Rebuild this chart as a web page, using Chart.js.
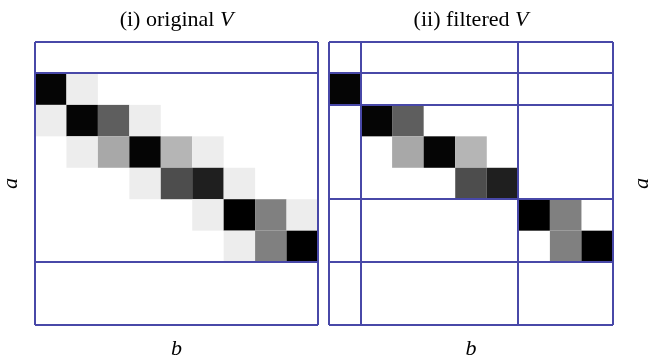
<!DOCTYPE html>
<html>
<head>
<meta charset="utf-8">
<script src="https://cdn.jsdelivr.net/npm/chart.js@4.4.0/dist/chart.umd.min.js"></script>
<style>
  html, body { margin: 0; padding: 0; background: #fff; }
  #wrap { position: relative; width: 657px; height: 360px; overflow: hidden; }
  canvas { position: absolute; top: 0; }
</style>
</head>
<body>
<div id="wrap">
  <canvas id="left-chart" width="328" height="360" style="left:0"></canvas>
  <canvas id="right-chart" width="337" height="360" style="left:320px"></canvas>
</div>
<script>
// grid size (a rows x b columns)
const nRows = 9;
const nCols = 9;

// cell intensity, 1 = black, 0 = white
const originalV = [
  [0, 0, 0, 0, 0, 0, 0, 0, 0],
  [0.98, 0.07, 0, 0, 0, 0, 0, 0, 0],
  [0.07, 0.98, 0.63, 0.07, 0, 0, 0, 0, 0],
  [0, 0.07, 0.34, 0.98, 0.29, 0.07, 0, 0, 0],
  [0, 0, 0, 0.07, 0.70, 0.88, 0.07, 0, 0],
  [0, 0, 0, 0, 0, 0.07, 1.0, 0.5, 0.07],
  [0, 0, 0, 0, 0, 0, 0.07, 0.5, 1.0],
  [0, 0, 0, 0, 0, 0, 0, 0, 0],
  [0, 0, 0, 0, 0, 0, 0, 0, 0]
];

const filteredV = [
  [0, 0, 0, 0, 0, 0, 0, 0, 0],
  [0.98, 0, 0, 0, 0, 0, 0, 0, 0],
  [0, 0.98, 0.63, 0, 0, 0, 0, 0, 0],
  [0, 0, 0.34, 0.98, 0.29, 0, 0, 0, 0],
  [0, 0, 0, 0, 0.70, 0.88, 0, 0, 0],
  [0, 0, 0, 0, 0, 0, 1.0, 0.5, 0],
  [0, 0, 0, 0, 0, 0, 0, 0.5, 1.0],
  [0, 0, 0, 0, 0, 0, 0, 0, 0],
  [0, 0, 0, 0, 0, 0, 0, 0, 0]
];

// block boundaries
const originalRowCuts = [0, 1, 7, 9];
const originalColCuts = [0, 9];
const filteredRowCuts = [0, 1, 2, 5, 7, 9];
const filteredColCuts = [0, 1, 6, 9];

const lineColor = '#4848a8';
const serif = '"Liberation Serif", "Times New Roman", serif';

const heatmapPlugin = {
    id: 'heatmap',
    beforeDatasetsDraw(chart, args, opts) {
        const {ctx, scales: {x, y}} = chart;
        const cells = opts.cells;
        ctx.save();
        cells.forEach((row, r) => {
            row.forEach((v, c) => {
                if (!v) return;
                const g = Math.round(255 * (1 - v));
                const x0 = x.getPixelForValue(c);
                const x1 = x.getPixelForValue(c + 1);
                const y0 = y.getPixelForValue(r);
                const y1 = y.getPixelForValue(r + 1);
                ctx.fillStyle = `rgb(${g},${g},${g})`;
                ctx.fillRect(x0, y0, x1 - x0, y1 - y0);
            });
        });
        ctx.restore();
    }
};

// title with italic V, plus optional rotated side label
const labelPlugin = {
    id: 'labels',
    afterDraw(chart, args, opts) {
        const {ctx, chartArea} = chart;
        ctx.save();
        ctx.fillStyle = '#000';
        const plain = `22px ${serif}`;
        const ital = `italic 22px ${serif}`;
        ctx.font = plain;
        const w1 = ctx.measureText(opts.title).width;
        ctx.font = ital;
        const w2 = ctx.measureText('V').width;
        let tx = (chartArea.left + chartArea.right) / 2 - (w1 + w2) / 2;
        ctx.textBaseline = 'alphabetic';
        ctx.textAlign = 'left';
        ctx.font = plain;
        ctx.fillText(opts.title, tx, 26);
        ctx.font = ital;
        ctx.fillText('V', tx + w1, 26);

        if (opts.sideLabel) {
            const yMid = (chartArea.top + chartArea.bottom) / 2;
            ctx.translate(chart.scales.y.right - 15, yMid);
            ctx.rotate(-Math.PI / 2);
            ctx.textAlign = 'center';
            ctx.textBaseline = 'middle';
            ctx.font = ital;
            ctx.fillText(opts.sideLabel, 0, 0);
        }
        ctx.restore();
    }
};

function makePanel(canvasId, cells, rowCuts, colCuts, isLeft) {
    const ctx = document.getElementById(canvasId).getContext('2d');
    const gridOpts = {
        color: lineColor,
        lineWidth: 2,
        drawTicks: false,
        z: 1
    };
    return new Chart(ctx, {
        type: 'scatter',
        data: { datasets: [{ data: [] }] },
        options: {
            responsive: false,
            animation: false,
            layout: {
                padding: isLeft
                    ? { left: 0, right: 10, top: 42, bottom: 0 }
                    : { left: 9, right: 0, top: 42, bottom: 0 }
            },
            scales: {
                x: {
                    type: 'linear',
                    min: 0,
                    max: nCols,
                    position: 'bottom',
                    afterBuildTicks: s => { s.ticks = colCuts.map(v => ({ value: v })); },
                    afterFit: s => { s.height = 35; },
                    ticks: { display: false },
                    grid: gridOpts,
                    border: { display: false },
                    title: {
                        display: true,
                        text: 'b',
                        color: '#000',
                        font: { family: serif, size: 22, style: 'italic', lineHeight: 1 },
                        padding: { top: 0, bottom: 0 }
                    }
                },
                y: {
                    type: 'linear',
                    min: 0,
                    max: nRows,
                    reverse: true,
                    position: isLeft ? 'left' : 'right',
                    afterBuildTicks: s => { s.ticks = rowCuts.map(v => ({ value: v })); },
                    afterFit: s => { s.width = isLeft ? 35 : 44; },
                    ticks: { display: false },
                    grid: gridOpts,
                    border: { display: false },
                    title: {
                        display: isLeft,
                        text: 'a',
                        color: '#000',
                        font: { family: serif, size: 22, style: 'italic', lineHeight: 1 },
                        padding: { top: 0, bottom: 0 }
                    }
                }
            },
            plugins: {
                legend: { display: false },
                tooltip: { enabled: false },
                heatmap: { cells: cells },
                labels: {
                    title: isLeft ? '(i) original ' : '(ii) filtered ',
                    sideLabel: isLeft ? null : 'a'
                }
            }
        },
        plugins: [heatmapPlugin, labelPlugin]
    });
}

makePanel('left-chart', originalV, originalRowCuts, originalColCuts, true);
makePanel('right-chart', filteredV, filteredRowCuts, filteredColCuts, false);
</script>
</body>
</html>
